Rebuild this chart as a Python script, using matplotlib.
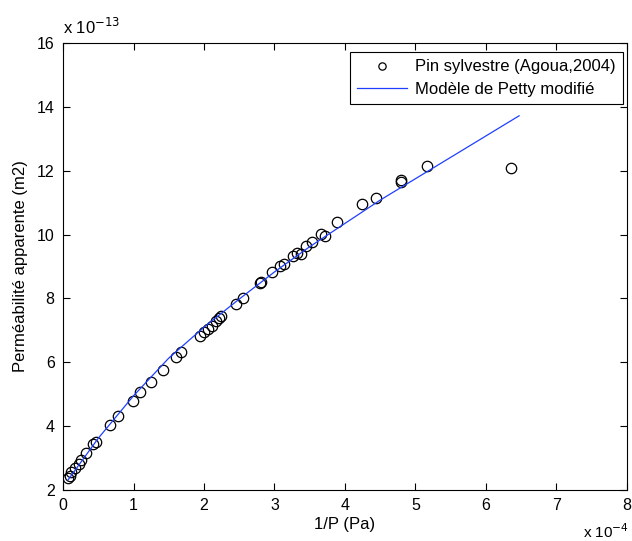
import matplotlib.pyplot as plt

plt.rcParams['font.family'] = ['Liberation Sans', 'DejaVu Sans']

# mesures (1/P en 1e-4 Pa^-1, permeabilite en 1e-13 m2)
invP_mes = [0.07, 0.10, 0.12, 0.17, 0.22, 0.26, 0.33, 0.43, 0.47, 0.67, 0.78,
            0.99, 1.09, 1.25, 1.42, 1.60, 1.68, 1.95, 2.00, 2.05, 2.11, 2.17,
            2.21, 2.24, 2.45, 2.55, 2.79, 2.81, 2.96, 3.08, 3.13, 3.26, 3.32,
            3.37, 3.45, 3.53, 3.66, 3.72, 3.89, 4.24, 4.44, 4.79, 4.79, 5.16, 6.36]
K_mes = [2.38, 2.44, 2.56, 2.69, 2.82, 2.93, 3.16, 3.44, 3.51, 4.04, 4.33,
         4.79, 5.07, 5.38, 5.75, 6.16, 6.32, 6.82, 6.95, 7.05, 7.15, 7.28,
         7.38, 7.45, 7.82, 8.00, 8.49, 8.53, 8.84, 9.00, 9.07, 9.32, 9.42,
         9.40, 9.63, 9.78, 10.02, 9.95, 10.38, 10.96, 11.16, 11.64, 11.72, 12.15, 12.07]

# modele de Petty modifie
invP_mod = [0.07, 0.5, 1.0, 1.5, 2.0, 2.5, 3.0, 3.5, 4.0, 4.5, 5.0, 5.5, 6.0, 6.47]
K_mod = [2.31, 3.62, 4.95, 6.13, 7.10, 7.98, 8.83, 9.62, 10.35, 11.08, 11.75,
         12.42, 13.09, 13.72]

fig = plt.figure(figsize=(6.32, 5.41), dpi=100)
ax = fig.add_axes([0.0997, 0.0943, 0.8923, 0.8262])

ax.plot(invP_mes, K_mes, 'o', mfc='none', mec='black', ms=7.5, mew=0.9,
        label='Pin sylvestre (Agoua,2004)')
ax.plot(invP_mod, K_mod, '-', color='#1f3fff', lw=0.9, label='Modèle de Petty modifié')

ax.set_xlim(0, 8)
ax.set_ylim(2, 16)
ax.set_xticks(range(0, 9))
ax.set_yticks(range(2, 17, 2))
ax.tick_params(direction='in', top=True, right=True, labelsize=11.5, length=5, pad=6)

ax.set_xlabel('1/P (Pa)', fontsize=12, labelpad=3)
ax.set_ylabel('Perméabilité apparente (m2)', fontsize=12, labelpad=6)

fig.text(0.1, 0.937, r'x 10$^{-13}$', fontsize=12)
fig.text(0.923, 0.005, r'x 10$^{-4}$', fontsize=11)

leg = ax.legend(loc='upper right', bbox_to_anchor=(0.993, 0.98), fontsize=12,
                fancybox=False, framealpha=1, edgecolor='black', borderaxespad=0,
                handlelength=3.0, handletextpad=0.45, labelspacing=0.45,
                borderpad=0.45, markerscale=0.7)
leg.get_frame().set_linewidth(0.8)

plt.savefig('out.png', dpi=100)
